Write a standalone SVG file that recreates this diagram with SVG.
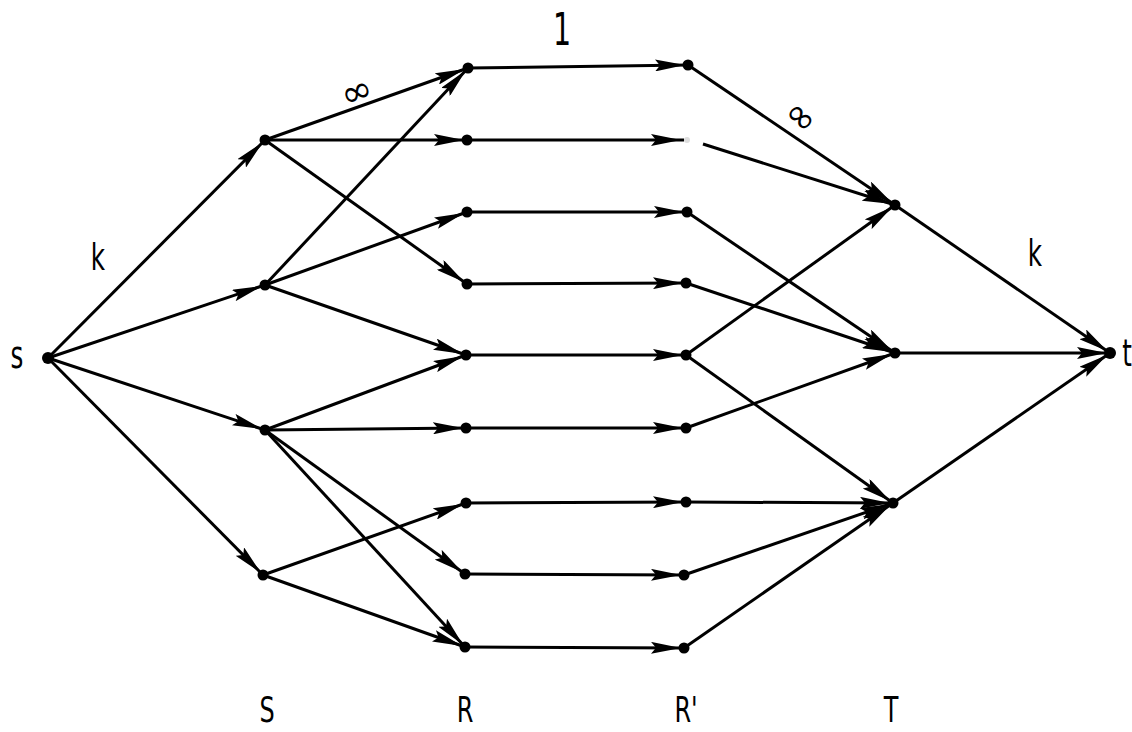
<svg xmlns="http://www.w3.org/2000/svg" width="1132" height="732" viewBox="0 0 1132 732">
<style>
.e{stroke:#000;stroke-width:3;fill:none;marker-end:url(#a)}
.n{fill:#000}
.l{font-family:"DejaVu Sans Condensed","DejaVu Sans",sans-serif;font-size:38px;fill:#000;text-anchor:middle}
.b{font-size:36px}
.inf{font-family:"DejaVu Sans",sans-serif;font-size:38px;fill:#000;text-anchor:middle}
</style>
<defs>
<marker id="a" markerUnits="userSpaceOnUse" viewBox="0 0 34 12" markerWidth="34" markerHeight="12" refX="33" refY="6" orient="auto">
<path d="M0,0 L30,6 L0,12 L5,6 z" fill="#000"/>
</marker>
</defs>
<rect width="1132" height="732" fill="#fff"/>
<g id="connectors">
<line class="e" x1="48" y1="358" x2="265" y2="140"/>
<line class="e" x1="48" y1="358" x2="265" y2="285"/>
<line class="e" x1="48" y1="358" x2="265" y2="430"/>
<line class="e" x1="48" y1="358" x2="263" y2="575"/>
<line class="e" x1="265" y1="140" x2="468" y2="68"/>
<line class="e" x1="265" y1="140" x2="467" y2="140"/>
<line class="e" x1="265" y1="140" x2="467" y2="284"/>
<line class="e" x1="265" y1="285" x2="468" y2="68"/>
<line class="e" x1="265" y1="285" x2="467" y2="212"/>
<line class="e" x1="265" y1="285" x2="466" y2="355"/>
<line class="e" x1="265" y1="430" x2="466" y2="355"/>
<line class="e" x1="265" y1="430" x2="466" y2="428"/>
<line class="e" x1="265" y1="430" x2="465" y2="574"/>
<line class="e" x1="265" y1="430" x2="465" y2="647"/>
<line class="e" x1="263" y1="575" x2="466" y2="503"/>
<line class="e" x1="263" y1="575" x2="465" y2="647"/>
<line class="e" x1="468" y1="68" x2="688" y2="65"/>
<line class="e" x1="467" y1="140" x2="684" y2="140"/>
<line class="e" x1="467" y1="212" x2="687" y2="212"/>
<line class="e" x1="467" y1="284" x2="686" y2="283"/>
<line class="e" x1="466" y1="355" x2="686" y2="355"/>
<line class="e" x1="466" y1="428" x2="686" y2="428"/>
<line class="e" x1="466" y1="503" x2="686" y2="502"/>
<line class="e" x1="465" y1="574" x2="684" y2="575"/>
<line class="e" x1="465" y1="647" x2="684" y2="648"/>
<line class="e" x1="688" y1="65" x2="895" y2="205"/>
<line class="e" x1="703" y1="144" x2="895" y2="205"/>
<line class="e" x1="687" y1="212" x2="895" y2="353"/>
<line class="e" x1="686" y1="283" x2="895" y2="353"/>
<line class="e" x1="686" y1="355" x2="895" y2="205"/>
<line class="e" x1="686" y1="355" x2="893" y2="503"/>
<line class="e" x1="686" y1="428" x2="895" y2="353"/>
<line class="e" x1="686" y1="502" x2="893" y2="503"/>
<line class="e" x1="684" y1="575" x2="893" y2="503"/>
<line class="e" x1="684" y1="648" x2="893" y2="503"/>
<line class="e" x1="895" y1="205" x2="1110" y2="353"/>
<line class="e" x1="895" y1="353" x2="1110" y2="353"/>
<line class="e" x1="893" y1="503" x2="1110" y2="353"/>
</g>
<g id="node-s"><circle class="n" cx="48" cy="358" r="6"/></g>
<g id="node-S1"><circle class="n" cx="265" cy="140" r="5.5"/></g>
<g id="node-S2"><circle class="n" cx="265" cy="285" r="5.5"/></g>
<g id="node-S3"><circle class="n" cx="265" cy="430" r="5.5"/></g>
<g id="node-S4"><circle class="n" cx="263" cy="575" r="5.5"/></g>
<g id="node-R1"><circle class="n" cx="468" cy="68" r="5.5"/></g>
<g id="node-R2"><circle class="n" cx="467" cy="140" r="5.5"/></g>
<g id="node-R3"><circle class="n" cx="467" cy="212" r="5.5"/></g>
<g id="node-R4"><circle class="n" cx="467" cy="284" r="5.5"/></g>
<g id="node-R5"><circle class="n" cx="466" cy="355" r="5.5"/></g>
<g id="node-R6"><circle class="n" cx="466" cy="428" r="5.5"/></g>
<g id="node-R7"><circle class="n" cx="466" cy="503" r="5.5"/></g>
<g id="node-R8"><circle class="n" cx="465" cy="574" r="5.5"/></g>
<g id="node-R9"><circle class="n" cx="465" cy="647" r="5.5"/></g>
<g id="node-Rp1"><circle class="n" cx="688" cy="65" r="5.5"/></g>
<g id="node-Rp2"><circle cx="687" cy="140" r="3" fill="#ddd"/></g>
<g id="node-Rp3"><circle class="n" cx="687" cy="212" r="5.5"/></g>
<g id="node-Rp4"><circle class="n" cx="686" cy="283" r="5.5"/></g>
<g id="node-Rp5"><circle class="n" cx="686" cy="355" r="5.5"/></g>
<g id="node-Rp6"><circle class="n" cx="686" cy="428" r="5.5"/></g>
<g id="node-Rp7"><circle class="n" cx="686" cy="502" r="5.5"/></g>
<g id="node-Rp8"><circle class="n" cx="684" cy="575" r="5.5"/></g>
<g id="node-Rp9"><circle class="n" cx="684" cy="648" r="5.5"/></g>
<g id="node-T1"><circle class="n" cx="895" cy="205" r="5.5"/></g>
<g id="node-T2"><circle class="n" cx="895" cy="353" r="5.5"/></g>
<g id="node-T3"><circle class="n" cx="893" cy="503" r="5.5"/></g>
<g id="node-t"><circle class="n" cx="1110" cy="353" r="6"/></g>
<g id="labels">
<text class="l" transform="translate(17,368) scale(0.72,1)">s</text>
<text class="l" transform="translate(1127,366) scale(0.72,1)">t</text>
<text class="l" transform="translate(98,270) scale(0.72,1)">k</text>
<text class="l" transform="translate(1035,266) scale(0.72,1)">k</text>
<text class="l" style="font-size:44px" transform="translate(562,45) scale(0.72,1)">1</text>
<text class="inf" transform="translate(357,93) rotate(-22)" y="11">∞</text>
<text class="inf" transform="translate(800,118) rotate(42)" y="11">∞</text>
<text class="l b" transform="translate(267,722) scale(0.74,1)">S</text>
<text class="l b" transform="translate(465,722) scale(0.74,1)">R</text>
<text class="l b" transform="translate(686,722) scale(0.74,1)">R'</text>
<text class="l b" transform="translate(891,722) scale(0.74,1)">T</text>
</g>
</svg>
